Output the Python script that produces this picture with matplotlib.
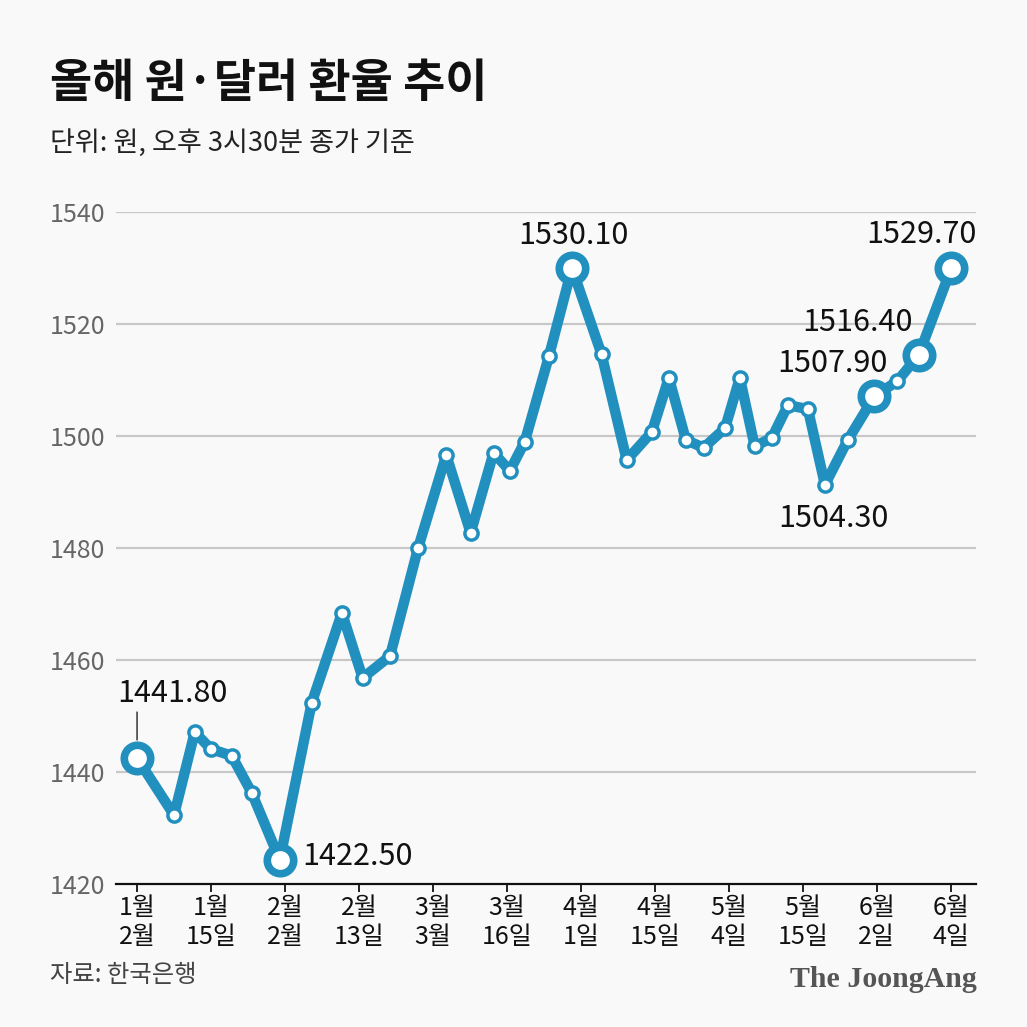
import numpy as np
import matplotlib.pyplot as plt

plt.rcParams['font.family'] = ['Noto Sans CJK KR', 'DejaVu Sans']

# 환율 (원), x in tick units (0 = 1월 2일 ... 11 = 6월 4일)
x_pos = [0.00, 0.50, 0.78, 1.00, 1.28, 1.55, 1.93, 2.36, 2.77, 3.05,
         3.42, 3.80, 4.18, 4.51, 4.82, 5.04, 5.24, 5.57, 5.88, 6.28,
         6.62, 6.96, 7.19, 7.42, 7.66, 7.95, 8.15, 8.35, 8.58, 8.80,
         9.07, 9.30, 9.61, 9.97, 10.28, 10.57, 11.01]
rates = [1442.5, 1432.3, 1447.1, 1444.1, 1442.9, 1436.3, 1424.3, 1452.3, 1468.4, 1456.8,
         1460.7, 1480.0, 1496.6, 1482.7, 1497.0, 1493.8, 1498.9, 1514.3, 1530.0, 1514.6,
         1495.7, 1500.7, 1510.4, 1499.3, 1497.9, 1501.4, 1510.4, 1498.2, 1499.6, 1505.5,
         1504.8, 1491.3, 1499.3, 1507.1, 1509.8, 1514.5, 1530.0]
highlight = [0, 6, 18, 33, 35, 36]
point_labels = {0: "1441.80", 6: "1422.50", 18: "1530.10", 36: "1529.70",
                35: "1516.40", 33: "1507.90", 31: "1504.30"}

tick_labels = ["1월\n2월", "1월\n15일", "2월\n2월", "2월\n13일", "3월\n3월", "3월\n16일",
               "4월\n1일", "4월\n15일", "5월\n4일", "5월\n15일", "6월\n2일", "6월\n4일"]
y_ticks = [1420, 1440, 1460, 1480, 1500, 1520, 1540]

blue = '#2190bf'
bg = '#f9f9f9'

fig = plt.figure(figsize=(10.27, 10.27), dpi=100, facecolor=bg)
ax = fig.add_axes([0.113, 0.1392, 0.837, 0.6544])
ax.set_facecolor(bg)

for y in y_ticks[1:]:
    ax.axhline(y, color='#c8c8c8', lw=1.6, zorder=1)

x = np.array(x_pos)
r = np.array(rates)
ax.plot(x, r, color=blue, lw=7.5, solid_joinstyle='round', zorder=3, clip_on=False)
small = [i for i in range(len(x)) if i not in highlight]
ax.plot(x[small], r[small], 'o', ms=9.5, mfc='white', mec=blue, mew=2.5, zorder=4, clip_on=False)
ax.plot(x[highlight], r[highlight], 'o', ms=19, mfc='white', mec=blue, mew=5.5, zorder=5, clip_on=False)

# value labels (offsets in pixels)
offsets = {0: (35, 65, 'center'), 6: (22, 3, 'left'), 18: (1, 32, 'center'),
           36: (-30, 33, 'center'), 35: (-61, 32, 'center'), 33: (-42, 33, 'center'),
           31: (9, -34, 'center')}
for i, txt in point_labels.items():
    dx, dy, ha = offsets[i]
    ax.annotate(txt, (x[i], r[i]), xytext=(dx, dy), textcoords='offset pixels',
                ha=ha, va='center', fontsize=22, fontweight='medium', color='#111111',
                zorder=6, annotation_clip=False)
ax.annotate('', (x[0], r[0]), xytext=(0, 46), textcoords='offset pixels',
            arrowprops=dict(arrowstyle='-', color='#222222', lw=1.0,
                            shrinkA=0, shrinkB=13), annotation_clip=False)

ax.set_xlim(-0.284, 11.338)
ax.set_ylim(1420, 1540)
ax.set_xticks(range(len(tick_labels)))
ax.set_xticklabels(tick_labels, fontsize=18, color='#111111', linespacing=1.15)
ax.set_yticks(y_ticks)
ax.set_yticklabels([str(v) for v in y_ticks], fontsize=18, color='#666666')
ax.tick_params(axis='y', length=0, pad=8)
ax.tick_params(axis='x', direction='out', length=6, width=1.3, color='#111111', pad=2)
for s in ['top', 'right', 'left']:
    ax.spines[s].set_visible(False)
ax.spines['bottom'].set_color('#111111')
ax.spines['bottom'].set_linewidth(1.6)

fig.text(0.049, 0.918, "올해 원·달러 환율 추이", fontsize=33, fontweight='heavy',
         color='#111111', ha='left', va='center')
fig.text(0.049, 0.861, "단위: 원, 오후 3시30분 종가 기준", fontsize=19.5,
         color='#222222', ha='left', va='center')
fig.text(0.049, 0.051, "자료: 한국은행", fontsize=17.5, color='#444444',
         ha='left', va='center')
fig.text(0.951, 0.046, "The JoongAng", fontsize=21.5, fontweight='bold',
         family='Liberation Serif', color='#555555', ha='right', va='center')

fig.savefig('out.png', dpi=100, facecolor=bg)
